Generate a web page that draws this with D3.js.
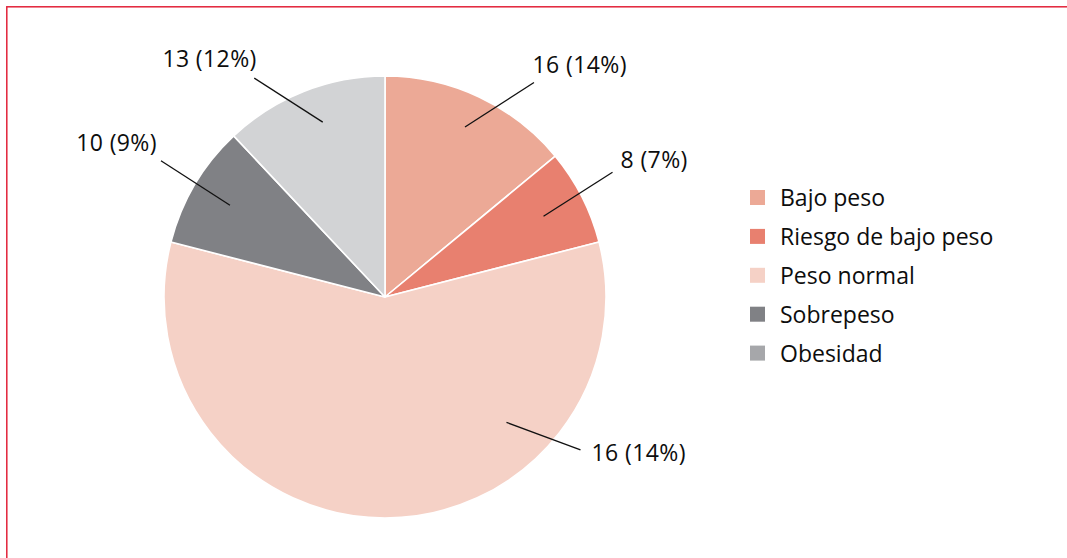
<!DOCTYPE html>
<html>
<head>
<meta charset="utf-8">
<script src="https://cdn.jsdelivr.net/npm/d3@7"></script>
<style>
  html, body { margin: 0; padding: 0; background: #fff; }
  svg { display: block; }
  text { font-family: "Open Sans", "Noto Sans", sans-serif; fill: #0d0d0d; }
</style>
</head>
<body>
<svg id="chart" width="1067" height="558"></svg>
<script>
// ---- data ----
const categories = ["Bajo peso", "Riesgo de bajo peso", "Peso normal", "Sobrepeso", "Obesidad"];
const shares = [14, 7, 58, 9, 12];           // slice size (percent of the whole)
const labels = ["16 (14%)", "8 (7%)", "16 (14%)", "10 (9%)", "13 (12%)"];  // as printed
const sliceColors  = ["#eca996", "#e8806f", "#f5d1c6", "#808185", "#d2d3d5"];
const legendColors = ["#eca996", "#e8806f", "#f5d1c6", "#808185", "#a6a7aa"];

// ---- label layout (leader anchor radius factor, optional angle, line vector, text offset) ----
const labelLayout = [
  { r: 0.85, dx: 69, dy: -44.5, tx: -1.5, ty: -10, anchor: "start" },
  { r: 0.805, dx: 69, dy: -44, tx: 8, ty: -4, anchor: "start" },
  { r: 0.79, angle: 135.9, dx: 74, dy: 27.5, tx: 11, ty: 11, anchor: "start" },
  { r: 0.815, dx: -69, dy: -44.5, tx: -4, ty: -10, anchor: "end" },
  { r: 0.84, angle: 340.4, dx: -68.5, dy: -44, tx: 2.5, ty: -11, anchor: "end" }
];

const svg = d3.select("#chart");

// frame
svg.append("rect")
  .attr("x", 6.8).attr("y", 6.8)
  .attr("width", 1200).attr("height", 700)
  .attr("fill", "none")
  .attr("stroke", "#e2233a")
  .attr("stroke-width", 1.5);

const cx = 385, cy = 297, R = 221;
const g = svg.append("g").attr("transform", `translate(${cx},${cy})`);

const pie = d3.pie().sort(null).value(d => d.v);
const arcs = pie(shares.map((v, i) => ({ v, i })));
const arc = d3.arc().innerRadius(0).outerRadius(R);

g.selectAll("path.slice")
  .data(arcs)
  .join("path")
  .attr("class", "slice")
  .attr("d", arc)
  .attr("fill", d => sliceColors[d.data.i])
  .attr("stroke", "#fff")
  .attr("stroke-width", 1.6)
  .attr("stroke-linejoin", "round");

// leaders & labels
arcs.forEach(d => {
  const L = labelLayout[d.data.i];
  const ang = L.angle != null ? L.angle * Math.PI / 180 : (d.startAngle + d.endAngle) / 2;
  const x0 = Math.sin(ang) * R * L.r;
  const y0 = -Math.cos(ang) * R * L.r;
  const x1 = x0 + L.dx, y1 = y0 + L.dy;
  g.append("line")
    .attr("x1", x0).attr("y1", y0)
    .attr("x2", x1).attr("y2", y1)
    .attr("stroke", "#111")
    .attr("stroke-width", 1.3);
  g.append("text")
    .attr("x", x1 + L.tx).attr("y", y1 + L.ty)
    .attr("text-anchor", L.anchor)
    .style("font-size", "23px")
    .style("letter-spacing", "0.4px")
    .text(labels[d.data.i]);
});

// legend
const legend = svg.append("g").attr("transform", "translate(750,190)");
const rowY = d3.scalePoint().domain(categories).range([0, 4 * 38.9]);
const items = legend.selectAll("g.item")
  .data(categories)
  .join("g")
  .attr("class", "item")
  .attr("transform", d => `translate(0,${rowY(d)})`);
items.append("rect")
  .attr("width", 15).attr("height", 15)
  .attr("fill", (d, i) => legendColors[i]);
items.append("text")
  .attr("x", 30).attr("y", 16)
  .style("font-size", "23px")
  .text(d => d);
</script>
</body>
</html>
